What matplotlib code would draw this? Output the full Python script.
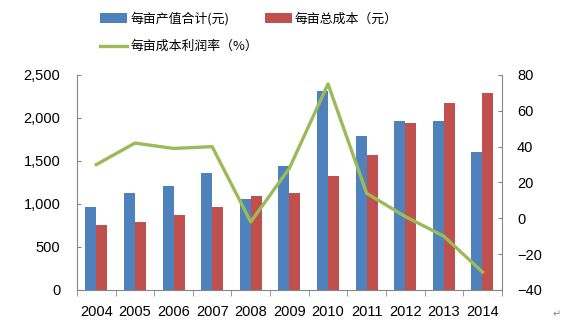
#每亩产值/成本/利润率 combo chart
import matplotlib.pyplot as plt
import numpy as np

plt.rcParams['font.family'] = ['Liberation Sans', 'Noto Sans CJK SC', 'DejaVu Sans']

years = ['2004', '2005', '2006', '2007', '2008', '2009', '2010', '2011', '2012', '2013', '2014']
output_value = [965, 1128, 1209, 1360, 1058, 1442, 2314, 1791, 1965, 1965, 1605]
total_cost = [756, 791, 872, 965, 1093, 1128, 1326, 1570, 1942, 2174, 2291]
profit_rate = [30, 42, 39, 40, -2, 28, 75, 14, 1, -10, -30]

blue = '#4F81BD'
red = '#C0504D'
green = '#9BBB59'
grey = '#868686'

fig = plt.figure(figsize=(5.67, 3.22), dpi=100)
ax = fig.add_axes([0.1358, 0.0994, 0.7492, 0.6677])
x = np.arange(len(years))
w = 0.285

b1 = ax.bar(x - w/2, output_value, w, color=blue, label='每亩产值合计(元)')
b2 = ax.bar(x + w/2, total_cost, w, color=red, label='每亩总成本（元）')

ax.set_xlim(-0.5, len(years) - 0.5)
ax.set_ylim(0, 2500)
ax.set_yticks([0, 500, 1000, 1500, 2000, 2500])
ax.set_yticklabels(['0', '500', '1,000', '1,500', '2,000', '2,500'])
ax.set_xticks(x)
ax.set_xticklabels(years)
ax.set_xticks(np.arange(len(years) + 1) - 0.5, minor=True)
ax.tick_params(axis='x', which='major', length=0, pad=11, labelsize=10.5)
ax.tick_params(axis='x', which='minor', length=4, color=grey)
ax.tick_params(axis='y', direction='in', length=3, color=grey, labelsize=10.5, pad=12)

ax2 = ax.twinx()
l1, = ax2.plot(x, profit_rate, color=green, lw=2.4, label='每亩成本利润率（%）')
ax2.set_ylim(-40, 80)
ax2.set_yticks([-40, -20, 0, 20, 40, 60, 80])
ax2.tick_params(axis='y', direction='in', length=3, color=grey, labelsize=10.5, pad=11)

for a in (ax, ax2):
    a.spines['top'].set_visible(False)
    for s in ('left', 'right', 'bottom'):
        a.spines[s].set_color(grey)
ax.spines['right'].set_visible(False)
ax2.spines['left'].set_visible(False)
ax2.spines['bottom'].set_visible(False)

fig.legend(handles=[b1, l1, b2], loc='upper left', bbox_to_anchor=(0.156, 1.0),
           ncol=2, frameon=False, handlelength=2.1, handleheight=0.75,
           columnspacing=0.5, handletextpad=0.25, labelspacing=1.15,
           prop={'family': ['Noto Sans CJK SC', 'DejaVu Sans'], 'size': 9.3})

fig.text(0.975, 0.015, '↵', fontsize=7, color=grey, family='DejaVu Sans')

plt.savefig('out.png', dpi=100)
